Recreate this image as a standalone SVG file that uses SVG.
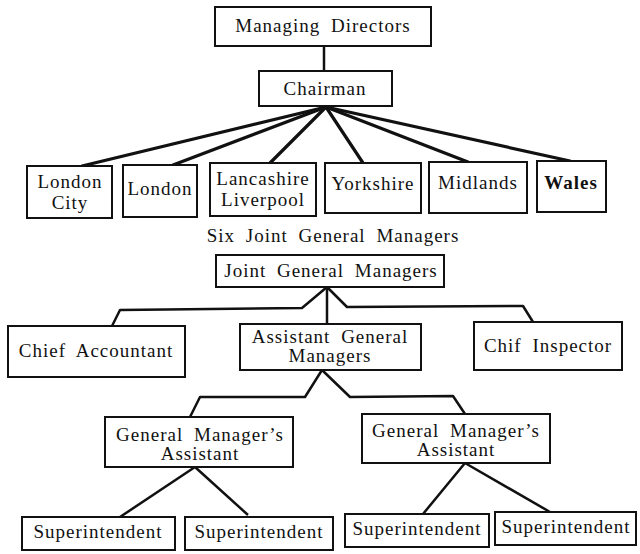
<svg xmlns="http://www.w3.org/2000/svg" width="640" height="554" viewBox="0 0 640 554">
<style>
.box{fill:#fff;stroke:#111;stroke-width:2}
.t{font-family:'Liberation Serif','Times New Roman',serif;font-size:19px;fill:#111;text-anchor:middle;letter-spacing:1px;word-spacing:5px}
.c{fill:none;stroke:#111;stroke-width:2.5;stroke-linejoin:round}
.f{stroke:#111;stroke-width:3.2;stroke-linecap:round}
</style>
<rect width="640" height="554" fill="#fff"/>
<g id="connectors">
<line class="c" x1="324" y1="46" x2="324" y2="71"/>
<line class="f" x1="326" y1="107" x2="82" y2="166"/>
<line class="f" x1="326" y1="107" x2="173" y2="165"/>
<line class="f" x1="326" y1="107" x2="270" y2="163"/>
<line class="f" x1="326" y1="107" x2="363" y2="163"/>
<line class="f" x1="326" y1="107" x2="468" y2="162"/>
<line class="f" x1="326" y1="107" x2="570" y2="161"/>
<polyline class="c" points="327,287 302,308 120,310 112,326"/>
<polyline class="c" points="327,287 347,307 523,306 533,322"/>
<line class="c" x1="327" y1="287" x2="327" y2="324"/>
<polyline class="c" points="322,370 305,397 200,397 190,417"/>
<polyline class="c" points="322,370 350,397 453,396 465,414"/>
<polyline class="c" points="120,517 195,467 248,515"/>
<polyline class="c" points="423,514 465,463 550,512"/>
</g>
<g id="managing-directors"><rect class="box" x="215" y="7" width="216" height="39"/><text class="t" x="323" y="32">Managing Directors</text></g>
<g id="chairman"><rect class="box" x="259" y="71" width="133" height="35"/><text class="t" x="325" y="95">Chairman</text></g>
<g id="london-city"><rect class="box" x="27" y="166" width="85" height="52"/><text class="t" x="70" y="188">London</text><text class="t" x="70" y="209">City</text></g>
<g id="london"><rect class="box" x="123" y="165" width="74" height="52"/><text class="t" x="160" y="195">London</text></g>
<g id="lancashire"><rect class="box" x="210" y="163" width="106" height="53"/><text class="t" x="263" y="185">Lancashire</text><text class="t" x="263" y="206">Liverpool</text></g>
<g id="yorkshire"><rect class="box" x="325" y="163" width="96" height="50"/><text class="t" x="373" y="190">Yorkshire</text></g>
<g id="midlands"><rect class="box" x="429" y="162" width="98" height="51"/><text class="t" x="478" y="189">Midlands</text></g>
<g id="wales"><rect class="box" x="537" y="161" width="69" height="51"/><text class="t" x="571" y="189" font-weight="bold">Wales</text></g>
<g id="six-joint-label"><text class="t" x="333" y="242">Six Joint General Managers</text></g>
<g id="joint-general-managers"><rect class="box" x="216" y="255" width="228" height="32"/><text class="t" x="331" y="277">Joint General Managers</text></g>
<g id="chief-accountant"><rect class="box" x="8" y="326" width="177" height="51"/><text class="t" x="96" y="357">Chief Accountant</text></g>
<g id="assistant-general-managers"><rect class="box" x="240" y="324" width="181" height="46"/><text class="t" x="330" y="343">Assistant General</text><text class="t" x="330" y="362">Managers</text></g>
<g id="chief-inspector"><rect class="box" x="474" y="322" width="148" height="48"/><text class="t" x="548" y="352">Chif Inspector</text></g>
<g id="gma-left"><rect class="box" x="105" y="417" width="188" height="50"/><text class="t" x="200" y="441">General Manager’s</text><text class="t" x="200" y="460">Assistant</text></g>
<g id="gma-right"><rect class="box" x="362" y="414" width="188" height="49"/><text class="t" x="456" y="437">General Manager’s</text><text class="t" x="456" y="456">Assistant</text></g>
<g id="superintendent-1"><rect class="box" x="22" y="517" width="153" height="33"/><text class="t" x="98" y="538">Superintendent</text></g>
<g id="superintendent-2"><rect class="box" x="185" y="517" width="148" height="33"/><text class="t" x="259" y="538">Superintendent</text></g>
<g id="superintendent-3"><rect class="box" x="345" y="514" width="144" height="33"/><text class="t" x="417" y="535">Superintendent</text></g>
<g id="superintendent-4"><rect class="box" x="495" y="512" width="141" height="33"/><text class="t" x="566" y="533">Superintendent</text></g>
</svg>
